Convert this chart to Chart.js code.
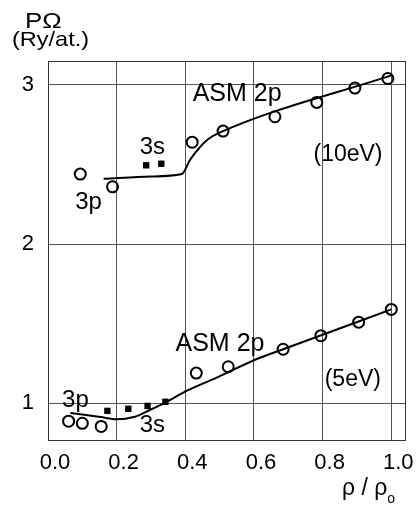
<!DOCTYPE html>
<html>
<head>
<meta charset="utf-8">
<script src="https://cdn.jsdelivr.net/npm/chart.js@4"></script>
<style>
  body { margin: 0; background: #fff; }
  #wrap { width: 418px; height: 506px; }
</style>
</head>
<body>
<div id="wrap"><canvas id="chart" width="418" height="506"></canvas></div>
<script>
// values (x = rho/rho0, y = P*Omega in Ry/atom)
const xTicks = [0, 0.2, 0.4, 0.6, 0.8, 1.0];
const yTicks = [1, 2, 3];

// 10 eV
const curve10x = [0.162, 0.30, 0.39, 0.414, 0.443, 0.467, 0.50, 1.0];
const curve10y = [2.41, 2.425, 2.44, 2.53, 2.61, 2.66, 2.70, 3.06];
const circ10x = [0.094, 0.188, 0.42, 0.51, 0.661, 0.783, 0.894, 0.99];
const circ10y = [2.44, 2.36, 2.64, 2.71, 2.80, 2.89, 2.98, 3.04];
const sq10x = [0.286, 0.33];
const sq10y = [2.495, 2.505];

// 5 eV
const curve5x = [0.065, 0.153, 0.20, 0.25, 0.298, 0.346, 0.405, 0.49, 0.61, 0.685, 1.0];
const curve5y = [0.94, 0.914, 0.90, 0.914, 0.96, 1.01, 1.08, 1.16, 1.28, 1.34, 1.59];
const circ5x = [0.06, 0.10, 0.155, 0.432, 0.525, 0.685, 0.795, 0.905, 1.0];
const circ5y = [0.888, 0.875, 0.855, 1.19, 1.23, 1.34, 1.425, 1.51, 1.59];
const sq5x = [0.173, 0.234, 0.29, 0.342];
const sq5y = [0.953, 0.966, 0.984, 1.01];

// text labels inside the plot (data units)
const noteText = ['3p', '3s', 'ASM 2p', '(10eV)', '3p', '3s', 'ASM 2p', '(5eV)'];
const noteX = [0.118, 0.304, 0.551, 0.874, 0.08, 0.304, 0.501, 0.888];
const noteY = [2.26, 2.61, 2.94, 2.56, 1.02, 0.86, 1.375, 1.15];
const noteSize = [24, 24, 25, 23, 24, 24, 25, 23];

const FONT = '"Liberation Sans", Arial, Helvetica, sans-serif';

function pts(xs, ys) {
    return xs.map((x, i) => ({ x: x, y: ys[i] }));
}

function lineSet(xs, ys) {
    return {
        data: pts(xs, ys),
        showLine: true,
        borderColor: '#000',
        borderWidth: 2,
        pointRadius: 0,
        cubicInterpolationMode: 'monotone',
        order: 2
    };
}

function circleSet(xs, ys) {
    return {
        data: pts(xs, ys),
        showLine: false,
        pointStyle: 'circle',
        pointRadius: 5.5,
        borderColor: '#000',
        borderWidth: 2,
        backgroundColor: 'rgba(0,0,0,0)',
        order: 1
    };
}

function squareSet(xs, ys) {
    return {
        data: pts(xs, ys),
        showLine: false,
        pointStyle: 'rect',
        pointRadius: 4.5,
        borderWidth: 0,
        backgroundColor: '#000',
        order: 1
    };
}

// text a little wider than the font, like the scanned lettering
function wideText(ctx, text, x, y, size, stretch) {
    ctx.save();
    ctx.font = size + 'px ' + FONT;
    ctx.translate(x, y);
    ctx.scale(stretch, 1);
    ctx.fillText(text, 0, 0);
    ctx.restore();
}

const extras = {
    id: 'extras',
    afterDraw(chart) {
        const ctx = chart.ctx;
        const a = chart.chartArea;
        const sx = chart.scales.x, sy = chart.scales.y;
        ctx.save();
        // frame
        ctx.strokeStyle = '#333';
        ctx.lineWidth = 1;
        ctx.strokeRect(a.left + 0.5, a.top + 0.5, a.right - a.left, a.bottom - a.top);

        ctx.fillStyle = '#000';
        ctx.textAlign = 'center';
        ctx.textBaseline = 'middle';
        noteText.forEach((t, i) => {
            ctx.font = noteSize[i] + 'px ' + FONT;
            ctx.fillText(t, sx.getPixelForValue(noteX[i]), sy.getPixelForValue(noteY[i]));
        });

        // y title
        ctx.textAlign = 'left';
        ctx.textBaseline = 'alphabetic';
        wideText(ctx, 'P\u03A9', 25, 28, 22, 1.18);
        wideText(ctx, '(Ry/at.)', 12, 46, 21, 1.12);

        // x title
        ctx.font = '23px ' + FONT;
        ctx.fillText('\u03C1 / \u03C1', 342, 495);
        const w = ctx.measureText('\u03C1 / \u03C1').width;
        ctx.font = '14px ' + FONT;
        ctx.fillText('o', 342 + w, 503);
        ctx.restore();
    }
};

new Chart(document.getElementById('chart'), {
    type: 'scatter',
    data: {
        datasets: [
            lineSet(curve10x, curve10y),
            lineSet(curve5x, curve5y),
            circleSet(circ10x, circ10y),
            circleSet(circ5x, circ5y),
            squareSet(sq10x, sq10y),
            squareSet(sq5x, sq5y)
        ]
    },
    options: {
        responsive: false,
        devicePixelRatio: 1,
        animation: false,
        layout: { padding: { top: 61, right: 13, left: 0, bottom: 0 } },
        plugins: { legend: { display: false }, tooltip: { enabled: false } },
        scales: {
            x: {
                type: 'linear',
                min: 0,
                max: 1.04,
                afterFit: s => { s.height = 66; },
                afterBuildTicks: s => { s.ticks = xTicks.map(v => ({ value: v })); },
                grid: { color: '#555', lineWidth: 1, drawTicks: false },
                border: { display: false },
                ticks: {
                    color: '#000',
                    font: { family: FONT, size: 22 },
                    padding: 10,
                    labelOffset: 7,
                    maxRotation: 0,
                    autoSkip: false,
                    callback: v => v.toFixed(1)
                }
            },
            y: {
                type: 'linear',
                min: 0.77,
                max: 3.15,
                afterFit: s => { s.width = 48; },
                afterBuildTicks: s => { s.ticks = yTicks.map(v => ({ value: v })); },
                grid: { color: '#555', lineWidth: 1, drawTicks: false },
                border: { display: false },
                ticks: {
                    color: '#000',
                    font: { family: FONT, size: 22 },
                    padding: 14,
                    callback: v => String(v)
                }
            }
        }
    },
    plugins: [extras]
});
</script>
</body>
</html>
